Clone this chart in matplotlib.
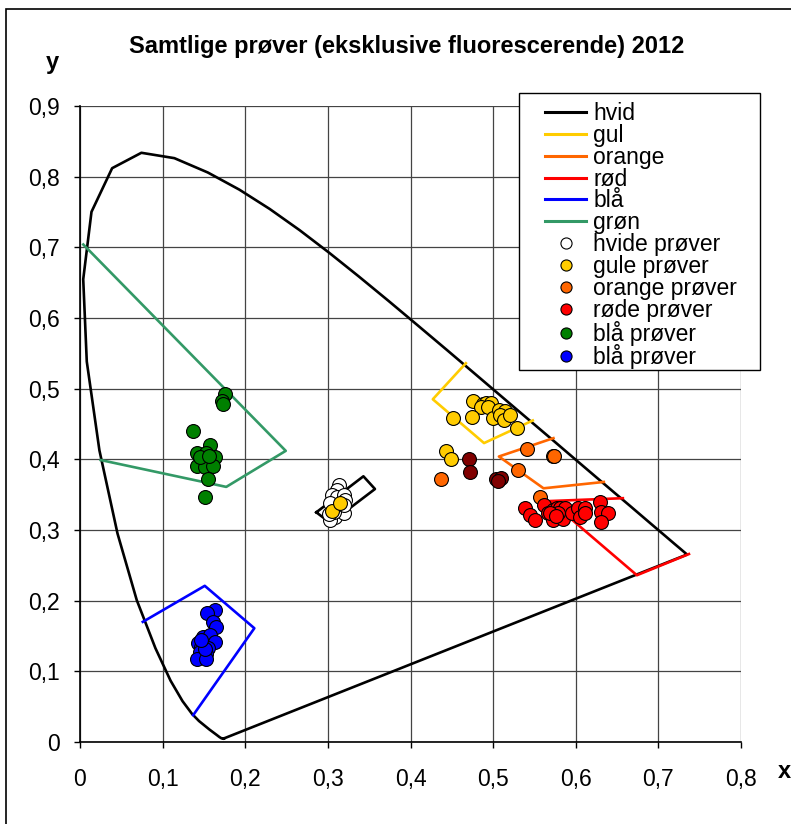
import matplotlib
matplotlib.use("Agg")
import matplotlib.pyplot as plt
from matplotlib.lines import Line2D
from matplotlib.patches import Rectangle
from matplotlib.ticker import FuncFormatter, MultipleLocator

plt.rcParams['font.family'] = ['Liberation Sans', 'DejaVu Sans']

# CIE 1931 spectrum locus (380 - 700 nm)
locus_x = [0.1741, 0.1733, 0.1714, 0.1689, 0.1644, 0.1566, 0.1440, 0.1355, 0.1241, 0.1096,
           0.0913, 0.0687, 0.0454, 0.0235, 0.0082, 0.0039, 0.0139, 0.0389, 0.0743, 0.1142,
           0.1547, 0.1929, 0.2296, 0.2658, 0.3016, 0.3373, 0.3731, 0.4087, 0.4441, 0.4788,
           0.5125, 0.5448, 0.5752, 0.6029, 0.6270, 0.6482, 0.6658, 0.6915, 0.7079, 0.7190,
           0.7260, 0.7300, 0.7334, 0.7347, 0.1741]
locus_y = [0.0050, 0.0048, 0.0051, 0.0069, 0.0109, 0.0177, 0.0297, 0.0399, 0.0578, 0.0868,
           0.1327, 0.2007, 0.2950, 0.4127, 0.5384, 0.6548, 0.7502, 0.8120, 0.8338, 0.8262,
           0.8059, 0.7816, 0.7543, 0.7243, 0.6923, 0.6589, 0.6245, 0.5896, 0.5547, 0.5202,
           0.4866, 0.4544, 0.4242, 0.3965, 0.3725, 0.3514, 0.3340, 0.3083, 0.2920, 0.2809,
           0.2740, 0.2700, 0.2666, 0.2653, 0.0050]

# colour region boundaries
hvid_x = [0.286, 0.343, 0.357, 0.303, 0.286]
hvid_y = [0.325, 0.376, 0.358, 0.310, 0.325]
gul_x = [0.467, 0.427, 0.489, 0.548]
gul_y = [0.536, 0.485, 0.423, 0.455]
orange_x = [0.573, 0.507, 0.561, 0.634]
orange_y = [0.430, 0.404, 0.359, 0.368]
rod_x = [0.657, 0.569, 0.674, 0.737]
rod_y = [0.345, 0.341, 0.236, 0.266]
bla_x = [0.076, 0.151, 0.211, 0.137]
bla_y = [0.170, 0.221, 0.161, 0.038]
gron_x = [0.004, 0.249, 0.177, 0.025]
gron_y = [0.704, 0.412, 0.361, 0.399]

# samples
hvide_x = [0.313, 0.311, 0.305, 0.311, 0.319, 0.321, 0.303, 0.309, 0.303, 0.319, 0.307, 0.319, 0.301]
hvide_y = [0.364, 0.357, 0.350, 0.347, 0.350, 0.342, 0.338, 0.319, 0.314, 0.324, 0.326, 0.335, 0.322]
gule_x = [0.476, 0.488, 0.491, 0.497, 0.485, 0.494, 0.451, 0.475, 0.500, 0.507, 0.514, 0.508,
          0.513, 0.520, 0.529, 0.443, 0.449, 0.305, 0.315]
gule_y = [0.482, 0.479, 0.480, 0.480, 0.474, 0.474, 0.458, 0.460, 0.458, 0.470, 0.469, 0.463,
          0.456, 0.463, 0.445, 0.412, 0.401, 0.327, 0.338]
orange_p_x = [0.437, 0.541, 0.572, 0.574, 0.530, 0.557]
orange_p_y = [0.372, 0.414, 0.405, 0.405, 0.385, 0.346]
rode_x = [0.539, 0.545, 0.551, 0.562, 0.567, 0.573, 0.577, 0.581, 0.587, 0.573, 0.584, 0.579,
          0.595, 0.603, 0.611, 0.605, 0.611, 0.629, 0.631, 0.639, 0.631, 0.569, 0.576]
rode_y = [0.331, 0.321, 0.314, 0.335, 0.324, 0.328, 0.331, 0.331, 0.331, 0.314, 0.316, 0.324,
          0.324, 0.331, 0.331, 0.319, 0.324, 0.339, 0.325, 0.324, 0.311, 0.324, 0.320]
gronne_x = [0.175, 0.172, 0.173, 0.137, 0.157, 0.141, 0.152, 0.163, 0.147, 0.141, 0.151, 0.161,
            0.155, 0.151, 0.145, 0.156]
gronne_y = [0.492, 0.482, 0.478, 0.440, 0.420, 0.409, 0.409, 0.403, 0.400, 0.391, 0.389, 0.391,
            0.372, 0.346, 0.404, 0.405]
blaa_x = [0.163, 0.154, 0.161, 0.165, 0.149, 0.157, 0.163, 0.143, 0.147, 0.155, 0.145, 0.153,
          0.141, 0.153, 0.151, 0.146]
blaa_y = [0.187, 0.183, 0.170, 0.163, 0.149, 0.151, 0.142, 0.140, 0.135, 0.133, 0.128, 0.125,
          0.117, 0.118, 0.131, 0.144]
mork_x = [0.471, 0.472, 0.503, 0.509, 0.506]
mork_y = [0.401, 0.382, 0.372, 0.373, 0.370]

fig = plt.figure(figsize=(7.91, 8.24), dpi=100)
ax = fig.add_axes([80 / 791, 82 / 824, 661 / 791, 636 / 824])

lw = 1.9
ax.plot(locus_x, locus_y, color='black', lw=lw, zorder=3)
ax.plot(hvid_x, hvid_y, color='black', lw=lw, zorder=3)
ax.plot(gul_x, gul_y, color='#FFCC00', lw=lw, zorder=3)
ax.plot(orange_x, orange_y, color='#FF6600', lw=lw, zorder=3)
ax.plot(rod_x, rod_y, color='#FF0000', lw=lw, zorder=3)
ax.plot(bla_x, bla_y, color='#0000FF', lw=lw, zorder=3)
ax.plot(gron_x, gron_y, color='#339966', lw=lw, zorder=3)

kw = dict(s=100, edgecolors='black', linewidths=0.8, zorder=4)
ax.scatter(hvide_x, hvide_y, c='white', **kw)
ax.scatter(gule_x, gule_y, c='#FFCC00', **kw)
ax.scatter(orange_p_x, orange_p_y, c='#FF6600', **kw)
ax.scatter(rode_x, rode_y, c='#FF0000', **kw)
ax.scatter(gronne_x, gronne_y, c='#008000', **kw)
ax.scatter(blaa_x, blaa_y, c='#0000FF', **kw)
ax.scatter(mork_x, mork_y, c='#800000', **kw)

ax.set_xlim(0, 0.8)
ax.set_ylim(0, 0.9)
ax.xaxis.set_major_locator(MultipleLocator(0.1))
ax.yaxis.set_major_locator(MultipleLocator(0.1))
fmt = FuncFormatter(lambda v, p: '0' if abs(v) < 1e-9 else f'{v:.1f}'.replace('.', ','))
ax.xaxis.set_major_formatter(fmt)
ax.yaxis.set_major_formatter(fmt)
ax.grid(True, color='#444444', lw=0.9)
ax.set_axisbelow(True)
for s in ['top', 'right']:
    ax.spines[s].set_visible(False)
for s in ['left', 'bottom']:
    ax.spines[s].set_linewidth(1.2)
ax.tick_params(direction='out', length=4.5, width=1, labelsize=16.5)
ax.tick_params(axis='x', pad=14)
ax.tick_params(axis='y', pad=10)

fig.text(407 / 791, 1 - 46 / 824, 'Samtlige prøver (eksklusive fluorescerende) 2012',
         ha='center', va='center', fontsize=17, fontweight='bold')
fig.text(52 / 791, 1 - 62 / 824, 'y', ha='center', va='center', fontsize=17, fontweight='bold')
fig.text(784 / 791, 1 - 771 / 824, 'x', ha='center', va='center', fontsize=17, fontweight='bold')

# figure border
fig.patches.append(Rectangle((6 / 791, -0.05), 790 / 791, 1.05 - 9 / 824, transform=fig.transFigure,
                             fill=False, edgecolor='black', lw=1.2))

# legend
handles = [
    Line2D([], [], color='black', lw=2.2),
    Line2D([], [], color='#FFCC00', lw=2.2),
    Line2D([], [], color='#FF6600', lw=2.2),
    Line2D([], [], color='#FF0000', lw=2.2),
    Line2D([], [], color='#0000FF', lw=2.2),
    Line2D([], [], color='#339966', lw=2.2),
]
for col in ['white', '#FFCC00', '#FF6600', '#FF0000', '#008000', '#0000FF']:
    handles.append(Line2D([], [], ls='none', marker='o', markersize=8, markerfacecolor=col,
                          markeredgecolor='black', markeredgewidth=0.8))
labels = ['hvid', 'gul', 'orange', 'rød', 'blå', 'grøn', 'hvide prøver', 'gule prøver',
          'orange prøver', 'røde prøver', 'blå prøver', 'blå prøver']

fig.patches.append(Rectangle((519 / 791, 1 - 370 / 824), 241 / 791, 277 / 824, transform=fig.transFigure,
                             facecolor='white', edgecolor='black', lw=1.0, zorder=5))
leg = fig.legend(handles, labels, loc='upper left', bbox_to_anchor=(545 / 791, 1 - 102 / 824),
                 bbox_transform=fig.transFigure, frameon=False, fontsize=16.5, handlelength=1.8,
                 handletextpad=0.3, labelspacing=-0.05, borderpad=0, borderaxespad=0)
leg.set_zorder(6)

fig.savefig('out.png', dpi=100)
